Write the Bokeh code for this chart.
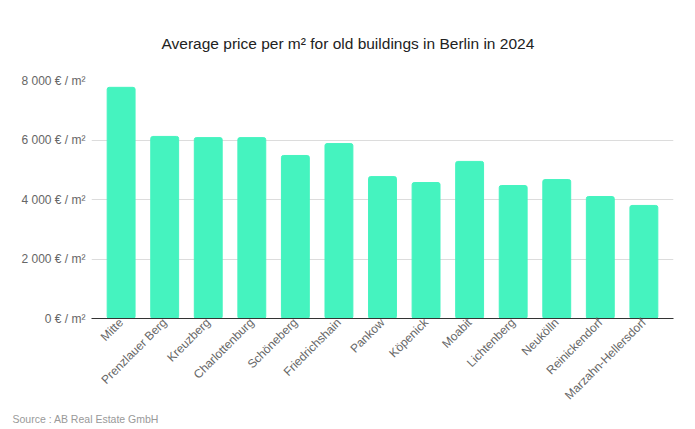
import math
from bokeh.plotting import figure
from bokeh.models import FactorRange, Range1d, FixedTicker, Title
from bokeh.embed import file_html
from bokeh.resources import INLINE

districts = ["Mitte", "Prenzlauer Berg", "Kreuzberg", "Charlottenburg", "Schöneberg",
             "Friedrichshain", "Pankow", "Köpenick", "Moabit", "Lichtenberg",
             "Neukölln", "Reinickendorf", "Marzahn-Hellersdorf"]
prices = [7770, 6120, 6080, 6080, 5480, 5880, 4770, 4570, 5280, 4470, 4670, 4100, 3800]
y_ticks = [0, 2000, 4000, 6000, 8000]
y_tick_labels = ["0 € / m²", "2 000 € / m²", "4 000 € / m²", "6 000 € / m²", "8 000 € / m²"]

FONT = "Liberation Sans"

p = figure(frame_width=582, frame_height=238, output_backend="svg", toolbar_location=None,
           x_range=FactorRange(*districts, range_padding=0.18, range_padding_units="absolute"),
           y_range=Range1d(0, 8000),
           min_border_left=91, min_border_right=6, min_border_top=80, min_border_bottom=10)
p.outline_line_color = None
p.background_fill_color = "white"
p.border_fill_color = "white"

p.vbar(x=districts, top=prices, width=0.64, color="#45F3BF", border_radius=2)

p.xgrid.grid_line_color = None
p.ygrid.grid_line_color = "#dcdcdc"
p.ygrid.ticker = FixedTicker(ticks=y_ticks)

p.yaxis.ticker = FixedTicker(ticks=y_ticks)
p.yaxis.major_label_overrides = {t: l for t, l in zip(y_ticks, y_tick_labels)}
p.yaxis.axis_line_color = None
p.yaxis.major_tick_line_color = None
p.yaxis.minor_tick_line_color = None
p.yaxis.major_tick_out = 0
p.yaxis.major_tick_in = 0
p.yaxis.major_label_standoff = 6
p.yaxis.major_label_text_font = FONT
p.yaxis.major_label_text_font_size = "12px"
p.yaxis.major_label_text_color = "#666666"

p.xaxis.axis_line_color = "#333333"
p.xaxis.major_tick_line_color = None
p.xaxis.minor_tick_line_color = None
p.xaxis.major_tick_out = 0
p.xaxis.major_tick_in = 0
p.xaxis.major_label_orientation = math.pi / 4
p.xaxis.major_label_standoff = 2
p.xaxis.major_label_text_font = FONT
p.xaxis.major_label_text_font_size = "12px"
p.xaxis.major_label_text_color = "#666666"

p.title = Title(text="Average price per m² for old buildings in Berlin in 2024",
                align="left", offset=70, standoff=58,
                text_font=FONT, text_font_size="15.5px", text_font_style="normal",
                text_color="#222222")

p.add_layout(Title(text="Source : AB Real Estate GmbH", align="left", offset=-79,
                   standoff=0, text_font=FONT, text_font_size="10.5px",
                   text_font_style="normal", text_color="#999999"), "below")

open("out.html", "w").write(file_html(p, INLINE))
